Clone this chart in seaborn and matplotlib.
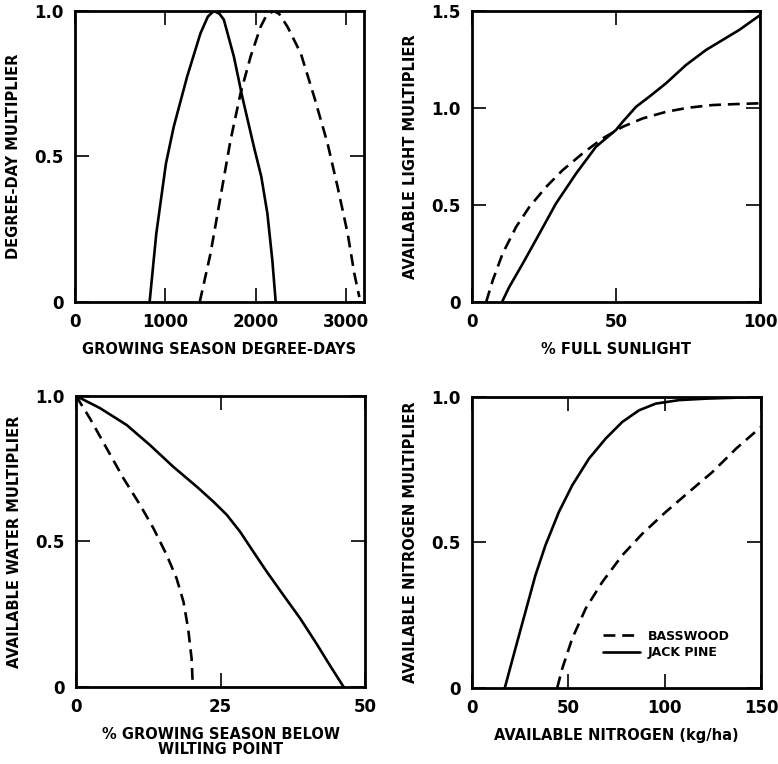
import matplotlib
matplotlib.use("Agg")
import matplotlib.pyplot as plt
import seaborn as sns

# degree-day panel
dd_pine_x = [826, 900, 1007, 1093, 1241, 1389, 1470, 1537, 1600, 1648, 1759, 1852, 1981, 2063, 2130, 2185, 2222]
dd_pine_y = [0, 0.235, 0.476, 0.602, 0.774, 0.923, 0.98, 1.0, 0.99, 0.97, 0.843, 0.705, 0.533, 0.43, 0.304, 0.143, 0]
dd_bass_x = [1381, 1500, 1611, 1722, 1833, 1944, 2056, 2120, 2200, 2260, 2352, 2500, 2648, 2796, 2907, 3019, 3093, 3148]
dd_bass_y = [0, 0.166, 0.361, 0.556, 0.717, 0.843, 0.946, 0.985, 1.0, 0.99, 0.946, 0.854, 0.705, 0.545, 0.396, 0.235, 0.097, 0.017]

# light panel
lt_pine_x = [10.4, 12.9, 17.6, 23.4, 29.1, 36.1, 43.0, 49.9, 52.3, 56.9, 61.5, 67.3, 74.2, 81.2, 86.9, 92.7, 100]
lt_pine_y = [0, 0.077, 0.198, 0.353, 0.507, 0.662, 0.8, 0.886, 0.929, 1.006, 1.058, 1.127, 1.221, 1.299, 1.35, 1.402, 1.479]
lt_bass_x = [4.9, 7.2, 10.6, 15.3, 19.9, 25.7, 31.4, 38.4, 45.3, 52.3, 59.2, 67.3, 74.9, 83.5, 91.6, 100]
lt_bass_y = [0, 0.112, 0.249, 0.387, 0.49, 0.593, 0.679, 0.766, 0.843, 0.903, 0.946, 0.98, 1.001, 1.015, 1.02, 1.024]

# water panel
wt_pine_x = [0, 4.15, 8.77, 12.8, 16.8, 20.9, 23.8, 26.1, 28.4, 30.7, 33.0, 35.9, 38.8, 41.6, 43.9, 46.3]
wt_pine_y = [1.0, 0.958, 0.9, 0.831, 0.757, 0.688, 0.636, 0.591, 0.533, 0.464, 0.396, 0.315, 0.235, 0.149, 0.075, 0]
wt_bass_x = [0, 2.4, 5.3, 8.2, 11.1, 13.4, 15.7, 17.4, 18.6, 19.4, 20.0, 20.2]
wt_bass_y = [1.0, 0.923, 0.82, 0.717, 0.625, 0.545, 0.453, 0.373, 0.292, 0.2, 0.097, 0.006]

# nitrogen panel
n_pine_x = [17.0, 22.5, 27.7, 32.9, 38.1, 45.1, 52.0, 60.7, 69.4, 78.0, 86.7, 95.4, 107.5, 121.4, 150]
n_pine_y = [0, 0.135, 0.261, 0.387, 0.49, 0.605, 0.696, 0.788, 0.857, 0.914, 0.954, 0.977, 0.989, 0.994, 1.0]
n_bass_x = [44.2, 46.8, 52.0, 59.0, 67.6, 78.0, 88.4, 100.6, 112.7, 124.8, 137.0, 150]
n_bass_y = [0, 0.066, 0.17, 0.273, 0.364, 0.456, 0.53, 0.605, 0.674, 0.742, 0.822, 0.897]

species = ["BASSWOOD", "JACK PINE"]

panels = [
    dict(pos=[0.0964, 0.6047, 0.3715, 0.381], pine=(dd_pine_x, dd_pine_y), bass=(dd_bass_x, dd_bass_y),
         xlim=(0, 3200), ylim=(0, 1.0), xticks=[0, 1000, 2000, 3000], xtl=["0", "1000", "2000", "3000"],
         yticks=[0, 0.5, 1.0], ytl=["0", "0.5", "1.0"],
         xlabel="GROWING SEASON DEGREE-DAYS", ylabel="DEGREE-DAY MULTIPLIER"),
    dict(pos=[0.6067, 0.6047, 0.3705, 0.381], pine=(lt_pine_x, lt_pine_y), bass=(lt_bass_x, lt_bass_y),
         xlim=(0, 100), ylim=(0, 1.5), xticks=[0, 50, 100], xtl=["0", "50", "100"],
         yticks=[0, 0.5, 1.0, 1.5], ytl=["0", "0.5", "1.0", "1.5"],
         xlabel="% FULL SUNLIGHT", ylabel="AVAILABLE LIGHT MULTIPLIER"),
    dict(pos=[0.0977, 0.1008, 0.3715, 0.381], pine=(wt_pine_x, wt_pine_y), bass=(wt_bass_x, wt_bass_y),
         xlim=(0, 50), ylim=(0, 1.0), xticks=[0, 25, 50], xtl=["0", "25", "50"],
         yticks=[0, 0.5, 1.0], ytl=["0", "0.5", "1.0"],
         xlabel="% GROWING SEASON BELOW\nWILTING POINT", ylabel="AVAILABLE WATER MULTIPLIER"),
    dict(pos=[0.6067, 0.0995, 0.3715, 0.381], pine=(n_pine_x, n_pine_y), bass=(n_bass_x, n_bass_y),
         xlim=(0, 150), ylim=(0, 1.0), xticks=[0, 50, 100, 150], xtl=["0", "50", "100", "150"],
         yticks=[0, 0.5, 1.0], ytl=["0", "0.5", "1.0"],
         xlabel="AVAILABLE NITROGEN (kg/ha)", ylabel="AVAILABLE NITROGEN MULTIPLIER"),
]

sns.set_style("ticks")
plt.rcParams["font.family"] = ["DejaVu Sans"]
plt.rcParams["font.weight"] = "bold"
plt.rcParams["text.color"] = "black"
plt.rcParams["axes.labelcolor"] = "black"

fig = plt.figure(figsize=(7.78, 7.64), dpi=100)

for i, p in enumerate(panels):
    ax = fig.add_axes(p["pos"])
    sns.lineplot(x=p["bass"][0], y=p["bass"][1], ax=ax, color="black", lw=1.9,
                 sort=False, label=species[0])
    ax.lines[-1].set_dashes((4.5, 2.6))
    sns.lineplot(x=p["pine"][0], y=p["pine"][1], ax=ax, color="black", lw=1.9,
                 sort=False, label=species[1])
    ax.set_xlim(*p["xlim"])
    ax.set_ylim(*p["ylim"])
    ax.set_xticks(p["xticks"], p["xtl"])
    ax.set_yticks(p["yticks"], p["ytl"])
    ax.tick_params(direction="in", top=True, right=True, length=10, width=1.2,
                   labelsize=12, pad=8, colors="black")
    for lab in ax.get_xticklabels() + ax.get_yticklabels():
        lab.set_fontweight("bold")
    for s in ax.spines.values():
        s.set_linewidth(2)
        s.set_color("black")
    ax.set_xlabel(p["xlabel"], fontsize=10.5, fontweight="bold", labelpad=8, linespacing=1.0)
    ax.set_ylabel(p["ylabel"], fontsize=10.5, fontweight="bold", labelpad=10)
    if i == 3:
        ax.legend(loc="lower right", bbox_to_anchor=(0.93, 0.06), frameon=False,
                  handlelength=3.0, handletextpad=0.6, labelspacing=0.3,
                  prop={"weight": "bold", "size": 9})
    else:
        ax.get_legend().remove()

fig.savefig("out.png", dpi=100)
